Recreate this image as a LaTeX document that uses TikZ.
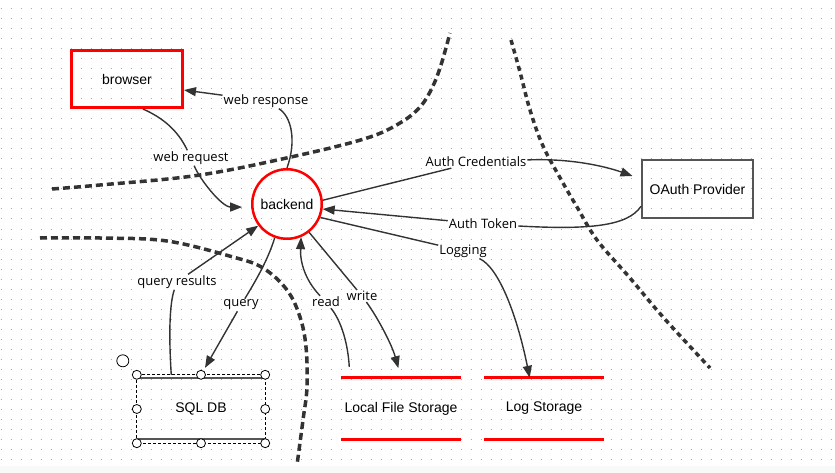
\documentclass[tikz,border=0pt]{standalone}
\usepackage{fontspec}
\setmainfont{Liberation Sans}
\newfontfamily\lblfont{Open Sans}
\usetikzlibrary{arrows.meta}
\definecolor{ink}{HTML}{333333}
\definecolor{redc}{HTML}{FF0000}
\definecolor{dotc}{HTML}{ABABAB}
\definecolor{boxgrey}{HTML}{555555}
\begin{document}
\begin{tikzpicture}[x=1pt,y=-1pt,
  nodetext/.style={font=\fontsize{14}{16}\selectfont, text=black},
  lbl/.style={font=\lblfont\fontsize{13}{15}\selectfont, fill=white, inner sep=1pt, text=black},
  flow/.style={draw=ink, line width=1.4pt, -{Triangle[length=12pt,width=9pt]}},
  plain/.style={draw=ink, line width=1.4pt},
  bound/.style={draw=ink, line width=3.5pt, dash pattern=on 7pt off 4pt},
  boundb/.style={draw=ink, line width=3.5pt, dash pattern=on 5pt off 4pt},
  handle/.style={circle, draw=black, fill=white, line width=0.8pt, inner sep=0pt, minimum size=9pt},
  storeline/.style={draw=redc, line width=3pt},
]
\useasboundingbox (0,0) rectangle (835,473);
\fill[white] (0,0) rectangle (835,466);
\fill[gray!5] (0,466) rectangle (835,473);
\foreach \j in {0,...,45} {
  \draw[dotc, line width=1pt, dash pattern=on 1pt off 9pt] (0.5,9+10*\j) -- (835,9+10*\j);
}

% trust boundaries
\draw[bound] plot[smooth, tension=0.6] coordinates {(52,189) (100,185) (200,175) (300,155) (367,138) (400,123) (420,107) (432,88) (441,65) (450,33)};
\draw[bound] plot[smooth, tension=0.6] coordinates {(40,238) (100,238) (167,241) (233,257) (263,268) (287,290) (300,317) (306,347) (307,387) (303,420) (297,465)};
\draw[boundb] plot[smooth, tension=0.6] coordinates {(511,40) (520,72) (530,110) (543,146) (563,183) (577,207) (597,240) (630,278) (663,317) (710,368)};

% nodes
\node[draw=redc, line width=3pt, minimum width=111pt, minimum height=57pt, nodetext] (browser) at (127,79) {browser};
\node[circle, draw=redc, line width=2.5pt, minimum size=69.5pt, inner sep=0pt, nodetext] (backend) at (287,204) {backend};
\node[draw=boxgrey, line width=2pt, minimum width=111pt, minimum height=58pt, nodetext] (oauth) at (697.5,189) {OAuth Provider};
\node[minimum width=128pt, minimum height=68pt, inner sep=0pt, nodetext] (sqldb) at (201,409) {SQL DB};
\node[minimum width=120pt, minimum height=61pt, inner sep=0pt, nodetext] (localfs) at (401,408.5) {Local File Storage};
\node[minimum width=120pt, minimum height=61pt, inner sep=0pt, nodetext] (logst) at (544,408.5) {Log Storage};

\draw[storeline] (localfs.north west) -- (localfs.north east);
\draw[storeline] (localfs.south west) -- (localfs.south east);
\draw[storeline] (logst.north west) -- (logst.north east);
\draw[storeline] (logst.south west) -- (logst.south east);

\draw[boxgrey, line width=2pt] ([yshift=-3pt]sqldb.north west) -- ([yshift=-3pt]sqldb.north east);
\draw[boxgrey, line width=2pt] ([yshift=4pt]sqldb.south west) -- ([yshift=4pt]sqldb.south east);
\draw[black, line width=0.7pt, dash pattern=on 3pt off 2pt] (sqldb.north west) rectangle (sqldb.south east);

% labels
\node[lbl] (lreq) at (191,158) {web request};
\node[lbl] (lresp) at (266,101) {web response};
\node[lbl] (lcred) at (476,162) {Auth Credentials};
\node[lbl] (ltok) at (483,224) {Auth Token};
\node[lbl] (llog) at (463,251) {Logging};
\node[lbl] (lwrite) at (362,296) {write};
\node[lbl] (lread) at (326,302) {read};
\node[lbl] (lquery) at (241,305) {query};
\node[lbl] (lqres) at (177,282) {query results};

% connectors
\draw[plain] (browser.-62) .. controls (168,120) and (180,135) .. (lreq);
\draw[flow, shorten >=9pt] (lreq) .. controls (200,180) and (222,207) .. (backend.185);
\draw[plain] (backend.north) .. controls (297,140) and (291,116) .. (lresp);
\draw[flow] (lresp) -- (browser.-11);
\draw[plain] (backend.6) -- (lcred);
\draw[flow, shorten >=9pt] (lcred) .. controls (575,158) and (610,168) .. (oauth.170);
\draw[plain] (oauth.197) .. controls (628,226) and (590,230) .. (ltok);
\draw[flow] (ltok) -- (backend.-8);
\draw[plain] (backend.-22) -- (llog);
\draw[flow] (llog) .. controls (500,268) and (518,320) .. (logst.115);
\draw[plain] (backend.-52) -- (lwrite);
\draw[flow, shorten >=10pt] (lwrite) .. controls (378,318) and (392,345) .. (localfs.north);
\draw[plain, shorten <=11pt] (localfs.149) .. controls (348,345) and (342,322) .. (lread);
\draw[flow] (lread) .. controls (305,280) and (300,262) .. (backend.-67);
\draw[plain] (backend.-110) .. controls (268,260) and (255,282) .. (lquery);
\draw[flow, shorten >=8pt] (lquery) -- (sqldb.north);
\draw[plain] (sqldb.131) .. controls (169,340) and (169,305) .. (lqres);
\draw[flow] (lqres) -- (backend.217);

% selection handles
\foreach \a [count=\i] in {north west, north, north east, west, east, south west, south, south east} {
  \node[handle] (h\i) at (sqldb.\a) {};
}
\node[handle, minimum size=12pt] (hrot) at ([xshift=-14pt,yshift=14pt]sqldb.north west) {};
\end{tikzpicture}
\end{document}
